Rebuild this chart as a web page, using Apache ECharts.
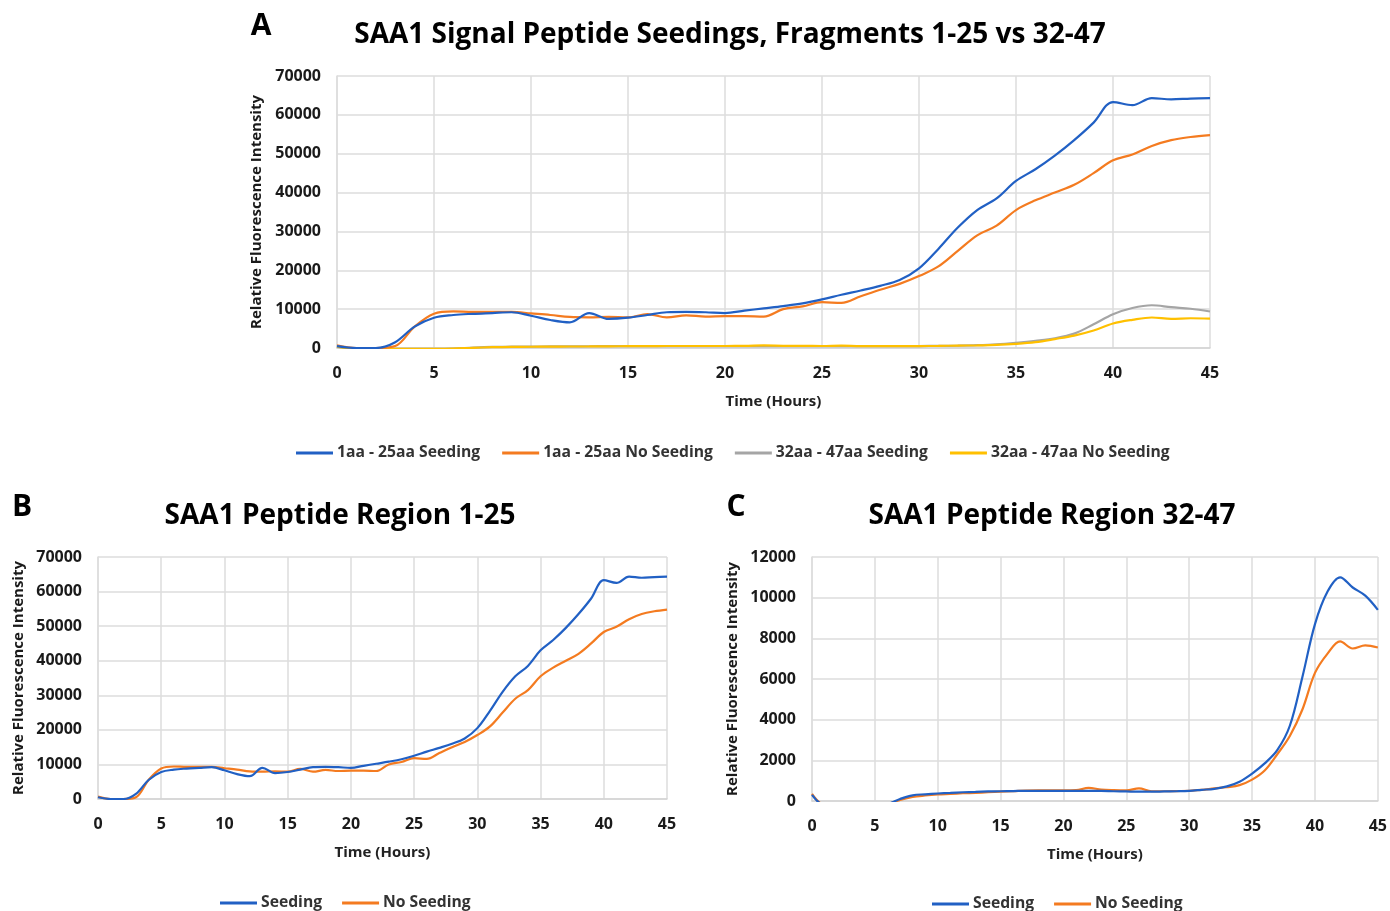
<!DOCTYPE html>
<html>
<head>
<meta charset="utf-8">
<script src="https://cdn.jsdelivr.net/npm/echarts@6/dist/echarts.min.js"></script>
<style>
  html, body { margin: 0; padding: 0; background: #fff; }
  #main { width: 1390px; height: 911px; }
</style>
</head>
<body>
<div id="main"></div>
<script>
// time in hours, one reading per hour
var hours = [0, 1, 2, 3, 4, 5, 6, 7, 8, 9, 10, 11, 12, 13, 14, 15, 16, 17, 18, 19, 20, 21, 22, 23, 24, 25, 26, 27, 28, 29, 30, 31, 32, 33, 34, 35, 36, 37, 38, 39, 40, 41, 42, 43, 44, 45];

// 1aa - 25aa
var seed1_25 = [500, 0, 0, 1500, 5500, 7800, 8500, 8800, 9000, 9200, 8300, 7200, 6600, 9000, 7500, 7800, 8500, 9200, 9300, 9200, 9000, 9600, 10200, 10800, 11500, 12500, 13700, 14800, 16000, 17500, 20500, 25500, 31000, 35500, 38500, 43000, 46000, 49500, 53500, 58000, 63300, 62500, 64300, 64000, 64200, 64300];
var noSeed1_25 = [700, 0, 0, 500, 5500, 8800, 9400, 9300, 9300, 9300, 8900, 8500, 8000, 7900, 8000, 7900, 8700, 7900, 8400, 8100, 8200, 8200, 8100, 10000, 10700, 11800, 11600, 13300, 15000, 16500, 18500, 21000, 25000, 29000, 31500, 35500, 38000, 40000, 42000, 45000, 48300, 49800, 52000, 53500, 54300, 54800];

// 32aa - 47aa
var seed32_47 = [300, -200, -200, -200, -200, -200, -150, 100, 280, 330, 370, 400, 430, 450, 470, 480, 490, 500, 500, 500, 500, 500, 500, 500, 480, 470, 460, 460, 470, 480, 500, 550, 600, 720, 950, 1350, 1850, 2500, 3700, 6100, 8700, 10300, 11000, 10500, 10100, 9400];
var noSeed32_47 = [350, -200, -200, -200, -200, -200, -150, 50, 200, 270, 320, 350, 380, 400, 430, 460, 480, 510, 520, 520, 520, 530, 650, 560, 530, 520, 620, 480, 480, 490, 500, 550, 620, 680, 780, 1050, 1500, 2300, 3200, 4500, 6300, 7250, 7850, 7500, 7650, 7550];

var xTicks = [0, 45, 5];
var yTicksAB = [0, 70000, 10000];
var yTicksC = [0, 12000, 2000];

var BLUE = '#2160c4', ORANGE = '#f47b20', GRAY = '#a5a5a5', YELLOW = '#ffc000';
var FONT = '"Open Sans", "DejaVu Sans", sans-serif';

function pairs(ys) {
  return hours.map(function (h, i) { return [h, ys[i]]; });
}

function xAxisFor(idx) {
  return {
    type: 'value', gridIndex: idx,
    min: xTicks[0], max: xTicks[1], interval: xTicks[2],
    name: 'Time (Hours)', nameLocation: 'middle', nameGap: 46,
    nameTextStyle: { fontFamily: FONT, fontSize: 15, fontWeight: 'bold', color: '#222' },
    axisLine: { lineStyle: { color: '#d4d4d4', width: 1.5 } },
    axisTick: { show: false },
    axisLabel: { margin: 17, fontFamily: FONT, fontSize: 16, fontWeight: 'bold', color: '#1a1a1a' },
    splitLine: { lineStyle: { color: '#dcdcdc', width: 1.5 } }
  };
}

function yAxisFor(idx, ticks) {
  return {
    type: 'value', gridIndex: idx,
    min: ticks[0], max: ticks[1], interval: ticks[2],
    name: 'Relative Fluorescence Intensity', nameLocation: 'middle', nameGap: 72,
    nameTextStyle: { fontFamily: FONT, fontSize: 15, fontWeight: 'bold', color: '#1a1a1a' },
    axisLine: { show: true, lineStyle: { color: '#dcdcdc', width: 1.5 } },
    axisTick: { show: false },
    axisLabel: {
      margin: 16, fontFamily: FONT, fontSize: 16, fontWeight: 'bold', color: '#1a1a1a',
      formatter: function (v) { return String(v); }
    },
    splitLine: { lineStyle: { color: '#dcdcdc', width: 1.5 } }
  };
}

function line(name, ys, color, idx) {
  return {
    name: name, type: 'line', xAxisIndex: idx, yAxisIndex: idx,
    data: pairs(ys), smooth: 0.35, symbol: 'none',
    lineStyle: { color: color, width: 2.2 }, itemStyle: { color: color }
  };
}

function legendAt(left, top, names, gap) {
  return {
    left: left, top: top, data: names, icon: 'rect', padding: 0,
    itemWidth: 37, itemHeight: 3, itemGap: gap,
    textStyle: { fontFamily: FONT, fontSize: 15.7, fontWeight: 'bold', color: '#333', padding: [0, 0, 0, -1] }
  };
}

function label(text, x, y, size) {
  return {
    type: 'text', x: x, y: y,
    style: { text: text, fill: '#000', font: 'bold ' + size + 'px ' + FONT, align: 'center', verticalAlign: 'middle' }
  };
}

var myChart = echarts.init(document.getElementById('main'));

var option = {
  animation: false,
  backgroundColor: '#fff',
  graphic: [
    label('A', 261, 26, 30),
    label('SAA1 Signal Peptide Seedings, Fragments 1-25 vs 32-47', 730, 35, 28),
    label('B', 22, 507, 30),
    label('SAA1 Peptide Region 1-25', 340, 516, 28),
    label('C', 736, 507, 30),
    label('SAA1 Peptide Region 32-47', 1052, 516, 28)
  ],
  grid: [
    { left: 337, top: 76, width: 873, height: 272 },
    { left: 98, top: 557, width: 569, height: 242 },
    { left: 812, top: 557, width: 566, height: 244 }
  ],
  xAxis: [xAxisFor(0), xAxisFor(1), xAxisFor(2)],
  yAxis: [yAxisFor(0, yTicksAB), yAxisFor(1, yTicksAB), yAxisFor(2, yTicksC)],
  legend: [
    legendAt(296, 445, ['1aa - 25aa Seeding', '1aa - 25aa No Seeding', '32aa - 47aa Seeding', '32aa - 47aa No Seeding'], 22),
    legendAt(220, 895, ['Seeding', 'No Seeding'], 20),
    legendAt(932, 896, ['Seeding', 'No Seeding'], 20)
  ],
  series: [
    line('32aa - 47aa Seeding', seed32_47, GRAY, 0),
    line('32aa - 47aa No Seeding', noSeed32_47, YELLOW, 0),
    line('1aa - 25aa No Seeding', noSeed1_25, ORANGE, 0),
    line('1aa - 25aa Seeding', seed1_25, BLUE, 0),
    line('No Seeding', noSeed1_25, ORANGE, 1),
    line('Seeding', seed1_25, BLUE, 1),
    line('No Seeding', noSeed32_47, ORANGE, 2),
    line('Seeding', seed32_47, BLUE, 2)
  ]
};

myChart.setOption(option);
</script>
</body>
</html>
